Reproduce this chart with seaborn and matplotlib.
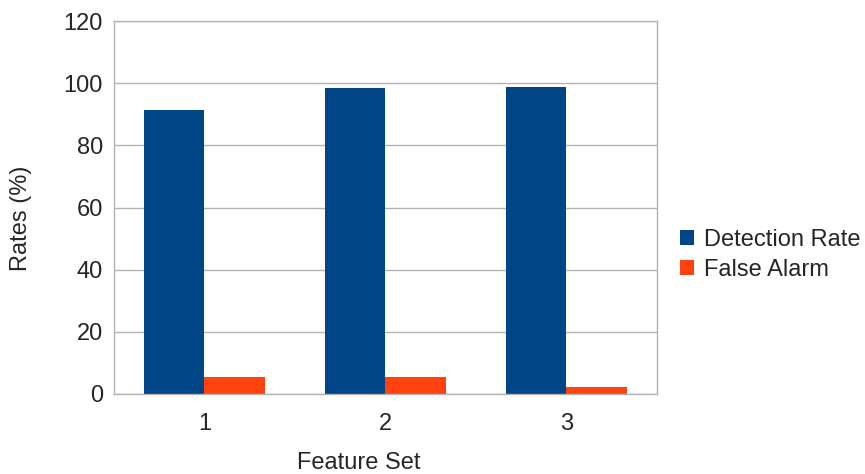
import matplotlib
matplotlib.use('Agg')
import matplotlib.pyplot as plt
import seaborn as sns
import pandas as pd
from matplotlib.ticker import FixedLocator

# Valores
feature_sets = ['1', '2', '3']
detection_rate = [91.4, 98.5, 98.8]
false_alarm = [5.5, 5.5, 2.3]
series_names = ['Detection Rate', 'False Alarm']
colors = ['#004586', '#ff420e']

data = pd.DataFrame({
    'feature_set': feature_sets * 2,
    'rate': detection_rate + false_alarm,
    'series': [series_names[0]] * 3 + [series_names[1]] * 3,
})

sns.set_style('white')
plt.rcParams['font.family'] = ['Liberation Sans', 'DejaVu Sans']

fig = plt.figure(figsize=(8.65, 4.74), dpi=100)
ax = fig.add_axes([114 / 865, 80 / 474, 543 / 865, 373 / 474])

sns.barplot(data=data, x='feature_set', y='rate', hue='series',
            palette=colors, width=0.667, saturation=1, linewidth=0, ax=ax, legend=True)

ax.set_ylim(0, 120)
ax.set_xlim(-0.5, 2.5)
ax.set_yticks(range(0, 121, 20))
ax.yaxis.grid(True, color='#b3b3b3', linewidth=1)
ax.set_axisbelow(True)
for s in ax.spines.values():
    s.set_color('#b3b3b3')
    s.set_linewidth(1)

fs = 17
ax.tick_params(axis='x', which='major', length=0, labelsize=fs, pad=14)
ax.xaxis.set_minor_locator(FixedLocator([-0.5, 0.5, 1.5, 2.5]))
ax.tick_params(axis='x', which='minor', length=7, color='#b3b3b3', width=1, direction='out')
ax.tick_params(axis='y', length=6, color='#b3b3b3', width=1, direction='out', labelsize=fs, pad=2)

ax.set_xlabel('Feature Set', fontsize=fs, va='center')
ax.set_ylabel('Rates (%)', fontsize=fs, va='center')
ax.xaxis.set_label_coords((359 - 114) / 543, (394 - 463) / 373)
ax.yaxis.set_label_coords((21 - 114) / 543, (394 - 218) / 373)

handles, labels = ax.get_legend_handles_labels()
ax.get_legend().remove()
fig.legend(handles, labels, loc='center left', bbox_to_anchor=(680 / 865, 1 - 255 / 474),
           frameon=False, fontsize=fs, handlelength=0.6, handleheight=0.6,
           handletextpad=0.4, labelspacing=0.35, borderaxespad=0, borderpad=0)

plt.savefig('out.png', dpi=100)
